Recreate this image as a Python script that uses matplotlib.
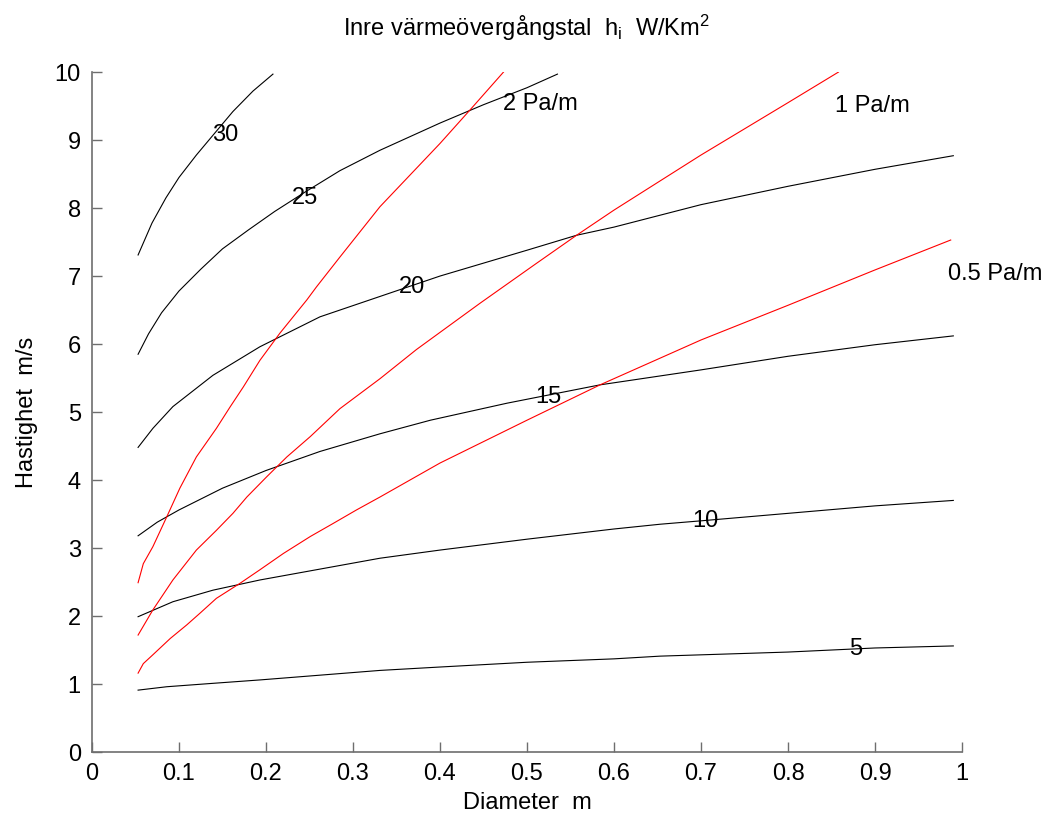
import matplotlib
matplotlib.use("Agg")
import matplotlib.pyplot as plt

plt.rcParams["font.family"] = ["Liberation Sans", "DejaVu Sans"]
plt.rcParams["mathtext.fontset"] = "custom"
plt.rcParams["mathtext.rm"] = "Liberation Sans"
plt.rcParams["mathtext.it"] = "Liberation Sans"

# Contour lines of inner heat transfer coefficient h_i (W/Km2)
h5_x = [0.053, 0.086, 0.139, 0.193, 0.262, 0.331, 0.4, 0.5, 0.6, 0.653, 0.8, 0.9, 0.99]
h5_y = [0.91, 0.96, 1.01, 1.06, 1.13, 1.20, 1.25, 1.32, 1.37, 1.41, 1.47, 1.53, 1.56]

h10_x = [0.053, 0.093, 0.139, 0.193, 0.262, 0.331, 0.4, 0.5, 0.6, 0.653, 0.7, 0.8, 0.9, 0.99]
h10_y = [1.99, 2.21, 2.38, 2.53, 2.69, 2.85, 2.97, 3.13, 3.28, 3.35, 3.40, 3.51, 3.62, 3.70]

h15_x = [0.053, 0.075, 0.1, 0.15, 0.2, 0.262, 0.331, 0.389, 0.477, 0.584, 0.7, 0.8, 0.9, 0.99]
h15_y = [3.18, 3.38, 3.56, 3.88, 4.14, 4.42, 4.68, 4.88, 5.13, 5.40, 5.62, 5.82, 5.99, 6.12]

h20_x = [0.053, 0.07, 0.093, 0.139, 0.193, 0.262, 0.331, 0.4, 0.5, 0.557, 0.6, 0.7, 0.8, 0.9, 0.99]
h20_y = [4.48, 4.76, 5.08, 5.54, 5.96, 6.40, 6.70, 7.00, 7.38, 7.60, 7.72, 8.05, 8.32, 8.57, 8.77]

h25_x = [0.053, 0.065, 0.08, 0.1, 0.125, 0.15, 0.18, 0.21, 0.243, 0.285, 0.331, 0.4, 0.45, 0.5, 0.535]
h25_y = [5.85, 6.15, 6.46, 6.78, 7.10, 7.40, 7.68, 7.95, 8.22, 8.55, 8.85, 9.25, 9.52, 9.77, 9.97]

h30_x = [0.053, 0.069, 0.085, 0.1, 0.12, 0.139, 0.162, 0.185, 0.208]
h30_y = [7.31, 7.78, 8.15, 8.45, 8.78, 9.07, 9.42, 9.72, 9.97]

# Pressure drop lines (Pa/m)
p2_x = [0.053, 0.059, 0.070, 0.086, 0.101, 0.120, 0.143, 0.159, 0.174, 0.193,
        0.216, 0.247, 0.258, 0.285, 0.331, 0.4, 0.435, 0.473]
p2_y = [2.49, 2.77, 3.02, 3.46, 3.88, 4.34, 4.76, 5.08, 5.37, 5.76,
        6.16, 6.65, 6.84, 7.28, 8.02, 8.95, 9.45, 10.0]

p1_x = [0.053, 0.070, 0.093, 0.120, 0.143, 0.162, 0.178, 0.201, 0.224, 0.251,
        0.285, 0.331, 0.373, 0.446, 0.509, 0.557, 0.6, 0.7, 0.8, 0.858]
p1_y = [1.72, 2.09, 2.53, 2.97, 3.26, 3.51, 3.75, 4.05, 4.34, 4.64,
        5.05, 5.49, 5.92, 6.60, 7.17, 7.60, 7.97, 8.78, 9.55, 10.0]

p05_x = [0.053, 0.059, 0.070, 0.090, 0.109, 0.124, 0.143, 0.170, 0.193, 0.220,
         0.251, 0.277, 0.304, 0.331, 0.4, 0.5, 0.584, 0.7, 0.8, 0.9, 0.987]
p05_y = [1.16, 1.30, 1.43, 1.67, 1.87, 2.04, 2.26, 2.48, 2.68, 2.92,
         3.17, 3.36, 3.56, 3.75, 4.25, 4.88, 5.40, 6.06, 6.57, 7.09, 7.53]

fig = plt.figure(figsize=(10.56, 8.19), dpi=100)
ax = fig.add_axes([0.0871, 0.0818, 0.8239, 0.8302])

for xs, ys in [(h5_x, h5_y), (h10_x, h10_y), (h15_x, h15_y),
               (h20_x, h20_y), (h25_x, h25_y), (h30_x, h30_y)]:
    ax.plot(xs, ys, color="black", linewidth=0.8)

for xs, ys in [(p2_x, p2_y), (p1_x, p1_y), (p05_x, p05_y)]:
    ax.plot(xs, ys, color="red", linewidth=0.8)

fs = 17
# contour labels
ax.text(0.153, 9.07, "30", fontsize=fs, ha="center", va="center")
ax.text(0.245, 8.15, "25", fontsize=fs, ha="center", va="center")
ax.text(0.368, 6.84, "20", fontsize=fs, ha="center", va="center")
ax.text(0.525, 5.22, "15", fontsize=fs, ha="center", va="center")
ax.text(0.705, 3.40, "10", fontsize=fs, ha="center", va="center")
ax.text(0.878, 1.51, "5", fontsize=fs, ha="center", va="center")

ax.text(0.472, 9.53, "2 Pa/m", fontsize=fs, ha="left", va="center")
ax.text(0.854, 9.50, "1 Pa/m", fontsize=fs, ha="left", va="center")
ax.text(0.984, 7.03, "0.5 Pa/m", fontsize=fs, ha="left", va="center", clip_on=False)

ax.set_xlim(0, 1)
ax.set_ylim(0, 10)
ax.set_xticks([i / 10 for i in range(11)])
ax.set_xticklabels(["0", "0.1", "0.2", "0.3", "0.4", "0.5", "0.6", "0.7", "0.8", "0.9", "1"])
ax.set_yticks(range(11))

for s in ["top", "right"]:
    ax.spines[s].set_visible(False)
for s in ["left", "bottom"]:
    ax.spines[s].set_color("#6e6e6e")
    ax.spines[s].set_linewidth(1.2)
ax.tick_params(direction="in", length=7, width=1.0, color="#6e6e6e",
               labelsize=fs, pad=8)

ax.set_xlabel("Diameter  m", fontsize=fs, labelpad=5)
ax.set_ylabel("Hastighet  m/s", fontsize=fs, labelpad=12)
ax.set_title(r"Inre värmeövergångstal  h$_{\rm i}$  W/Km$^2$", fontsize=fs, pad=26)

fig.savefig("out.png", dpi=100)
